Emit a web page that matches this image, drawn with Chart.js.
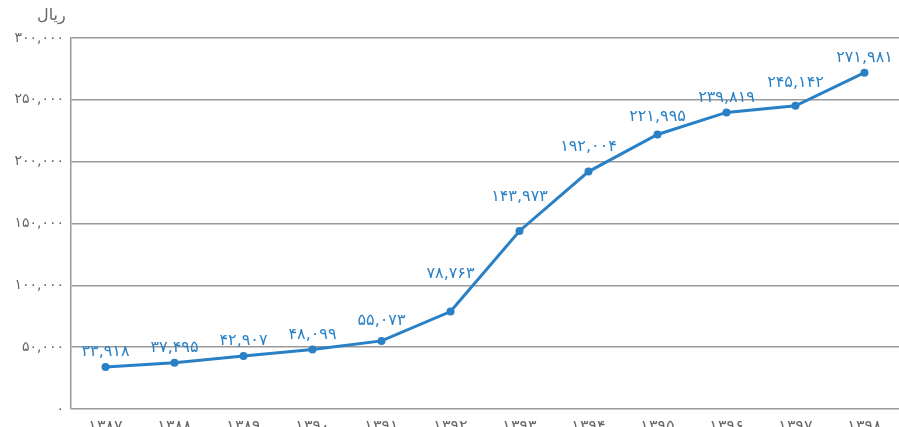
<!DOCTYPE html>
<html>
<head>
<meta charset="utf-8">
<script src="https://cdn.jsdelivr.net/npm/chart.js@4/dist/chart.umd.min.js"></script>
<style>
  html, body { margin: 0; padding: 0; background: #fff; }
  #wrap { position: relative; width: 899px; height: 427px; }
  #unit { position: absolute; left: 37px; top: 5px; font: 16px "DejaVu Sans", sans-serif; color: #666; }
</style>
</head>
<body>
<div id="wrap">
  <div id="unit">ریال</div>
  <canvas id="chart" width="899" height="427"></canvas>
</div>
<script>
const years = ['1387', '1388', '1389', '1390', '1391', '1392', '1393', '1394', '1395', '1396', '1397', '1398'];
const values = [33918, 37495, 42907, 48099, 55073, 78763, 143973, 192004, 221995, 239819, 245142, 271981];
const yTicks = [0, 50000, 100000, 150000, 200000, 250000, 300000];

const faDigits = '۰۱۲۳۴۵۶۷۸۹';
const toFa = (s) => String(s).replace(/\d/g, d => faDigits[d]);
const fmt = (n) => toFa(String(n).replace(/\B(?=(\d{3})+(?!\d))/g, ','));

const blue = '#2a80c5';
const FONT = '"DejaVu Sans", sans-serif';

// value labels above each point, pushed up until they clear the line
const pointLabels = {
  id: 'pointLabels',
  afterDatasetsDraw(chart) {
    const ctx = chart.ctx;
    const pts = chart.getDatasetMeta(0).data;
    ctx.save();
    ctx.font = '16px ' + FONT;
    ctx.fillStyle = blue;
    ctx.textAlign = 'center';
    ctx.textBaseline = 'middle';
    const h = 14;
    pts.forEach((p, i) => {
      const text = fmt(values[i]);
      const w = ctx.measureText(text).width;
      const left = p.x - w / 2, right = p.x + w / 2;
      const segs = [];
      if (i > 0) segs.push([pts[i - 1], p]);
      if (i < pts.length - 1) segs.push([p, pts[i + 1]]);
      let off = 15;
      const clear = (bottom) => segs.every(([a, b]) => {
        for (let x = Math.max(left, Math.min(a.x, b.x)); x <= Math.min(right, Math.max(a.x, b.x)); x += 1) {
          const y = a.y + (b.y - a.y) * (x - a.x) / (b.x - a.x);
          if (y < bottom + 2) return false;
        }
        return true;
      });
      while (off < 60 && !clear(p.y - off + h / 2)) off++;
      ctx.fillText(text, p.x, p.y - off);
    });
    ctx.restore();
  }
};

new Chart(document.getElementById('chart'), {
  type: 'line',
  data: {
    labels: years,
    datasets: [{
      data: values,
      borderColor: blue,
      backgroundColor: blue,
      borderWidth: 3,
      pointRadius: 4,
      pointBackgroundColor: blue,
      pointBorderWidth: 0,
      tension: 0
    }]
  },
  options: {
    responsive: false,
    animation: false,
    layout: { autoPadding: false, padding: { top: 38, right: 0, left: 0, bottom: 0 } },
    plugins: { legend: { display: false }, tooltip: { enabled: false } },
    scales: {
      x: {
        offset: true,
        grid: { display: false },
        border: { display: false },
        ticks: {
          color: '#666',
          font: { family: FONT, size: 16 },
          padding: 0,
          maxRotation: 0,
          callback: (v, i) => toFa(years[i])
        },
        afterFit: (s) => { s.height = 18; s.paddingLeft = 0; s.paddingRight = 0; }
      },
      y: {
        min: 0,
        max: 300000,
        afterBuildTicks: (s) => { s.ticks = yTicks.map(v => ({ value: v })); },
        grid: { color: '#9a9a9a', lineWidth: 1.5, drawTicks: false },
        border: { color: '#9a9a9a', width: 1.5 },
        ticks: {
          color: '#666',
          font: { family: FONT, size: 14 },
          padding: 7,
          callback: (v) => fmt(v)
        },
        afterFit: (s) => { s.width = 71; s.paddingTop = 0; s.paddingBottom = 0; }
      }
    }
  },
  plugins: [pointLabels]
});
</script>
</body>
</html>
